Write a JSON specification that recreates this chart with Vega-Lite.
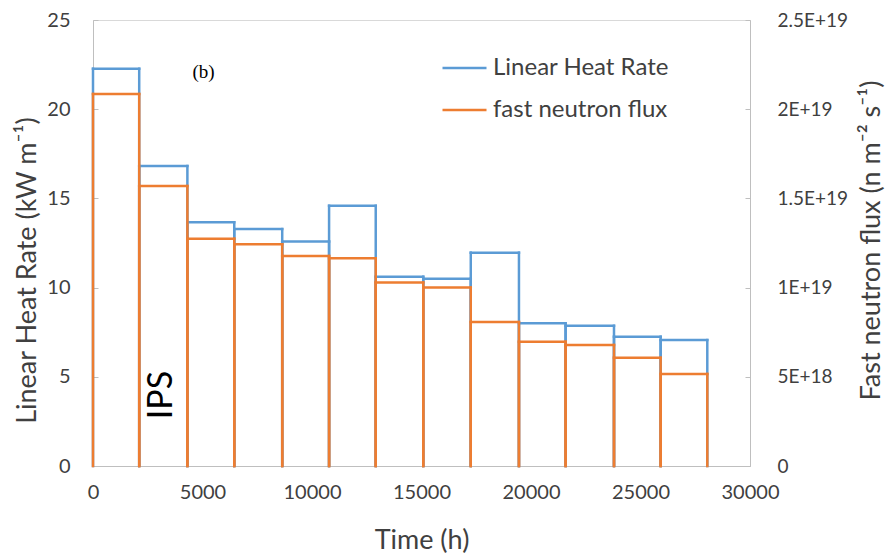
{
  "$schema": "https://vega.github.io/schema/vega-lite/v6.json",
  "width": 657,
  "height": 446,
  "autosize": {"type": "none"},
  "padding": {"left": 93, "top": 20, "right": 140, "bottom": 90},
  "background": "white",
  "config": {
    "view": {"stroke": "#d9d9d9", "strokeWidth": 1},
    "font": "Lato",
    "axis": {
      "domainColor": "#bfbfbf",
      "tickColor": "#bfbfbf",
      "labelColor": "#404040",
      "titleColor": "#404040",
      "grid": false,
      "labelFont": "Lato",
      "titleFont": "Lato",
      "titleFontWeight": "normal"
    },
    "legend": {"labelFont": "Lato"}
  },
  "data": {
    "values": [
      {"start": 0, "end": 2110, "lhr": 22.27, "flux": 2.085e19},
      {"start": 2110, "end": 4310, "lhr": 16.82, "flux": 1.57e19},
      {"start": 4310, "end": 6450, "lhr": 13.66, "flux": 1.274e19},
      {"start": 6450, "end": 8640, "lhr": 13.28, "flux": 1.243e19},
      {"start": 8640, "end": 10780, "lhr": 12.58, "flux": 1.177e19},
      {"start": 10780, "end": 12910, "lhr": 14.59, "flux": 1.164e19},
      {"start": 12910, "end": 15080, "lhr": 10.61, "flux": 1.028e19},
      {"start": 15080, "end": 17250, "lhr": 10.5, "flux": 1.0e19},
      {"start": 17250, "end": 19450, "lhr": 11.96, "flux": 8.07e18},
      {"start": 19450, "end": 21580, "lhr": 8.0, "flux": 6.97e18},
      {"start": 21580, "end": 23790, "lhr": 7.86, "flux": 6.78e18},
      {"start": 23790, "end": 25920, "lhr": 7.25, "flux": 6.07e18},
      {"start": 25920, "end": 28050, "lhr": 7.06, "flux": 5.16e18}
    ]
  },
  "layer": [
    {
      "encoding": {
        "y": {
          "field": "lhr",
          "type": "quantitative",
          "scale": {"domain": [0, 25], "nice": false},
          "axis": {
            "orient": "left",
            "title": "Linear Heat Rate (kW m⁻¹)",
            "values": [0, 5, 10, 15, 20, 25],
            "tickSize": -5,
            "labelPadding": 28,
            "labelFontSize": 20,
            "titleFontSize": 27,
            "titleBaseline": "middle",
            "titleX": -66,
            "titleY": 250
          }
        },
        "color": {
          "datum": "Linear Heat Rate",
          "scale": {
            "domain": ["Linear Heat Rate", "fast neutron flux"],
            "range": ["#5b9bd5", "#ed7d31"]
          },
          "legend": {
            "title": null,
            "orient": "none",
            "legendX": 348,
            "legendY": 36,
            "symbolType": "stroke",
            "symbolSize": 1936,
            "symbolStrokeWidth": 2.5,
            "clipHeight": 24,
            "rowPadding": 18,
            "labelFontSize": 24,
            "labelLimit": 400,
            "labelColor": "#404040",
            "labelOffset": 5
          }
        }
      },
      "layer": [
        {
          "mark": {"type": "rule", "strokeWidth": 2.5, "strokeCap": "square"},
          "encoding": {
            "x": {
              "field": "start",
              "type": "quantitative",
              "scale": {"domain": [0, 30000], "nice": false},
              "axis": {
                "title": "Time (h)",
                "values": [0, 5000, 10000, 15000, 20000, 25000, 30000],
                "format": "d",
                "ticks": false,
                "labelFlush": false,
                "labelPadding": 16,
                "labelFontSize": 20,
                "titleFontSize": 27,
                "titleBaseline": "middle",
                "titleY": 74
              }
            },
            "x2": {"field": "end"}
          }
        },
        {
          "mark": {"type": "rule", "strokeWidth": 2.5, "strokeCap": "square"},
          "encoding": {
            "x": {"field": "start", "type": "quantitative"},
            "y2": {"datum": 0}
          }
        },
        {
          "mark": {"type": "rule", "strokeWidth": 2.5, "strokeCap": "square"},
          "encoding": {
            "x": {"field": "end", "type": "quantitative"},
            "y2": {"datum": 0}
          }
        }
      ]
    },
    {
      "encoding": {
        "y": {
          "field": "flux",
          "type": "quantitative",
          "scale": {"domain": [0, 2.5e19], "nice": false},
          "axis": {
            "orient": "right",
            "title": "Fast neutron flux (n m⁻² s⁻¹)",
            "values": [0, 5e18, 1e19, 1.5e19, 2e19, 2.5e19],
            "labelExpr": "datum.value == 0 ? '0' : replace(format(datum.value, '.2~e'), 'e', 'E')",
            "tickSize": -5,
            "labelPadding": 32,
            "labelFontSize": 19,
            "titleFontSize": 27,
            "titleAngle": 270,
            "titleBaseline": "middle",
            "titleX": 121,
            "titleY": 220
          }
        },
        "color": {"datum": "fast neutron flux"}
      },
      "layer": [
        {
          "mark": {"type": "rule", "strokeWidth": 2.5, "strokeCap": "square"},
          "encoding": {
            "x": {"field": "start", "type": "quantitative"},
            "x2": {"field": "end"}
          }
        },
        {
          "mark": {"type": "rule", "strokeWidth": 2.5, "strokeCap": "square"},
          "encoding": {
            "x": {"field": "start", "type": "quantitative"},
            "y2": {"datum": 0}
          }
        },
        {
          "mark": {"type": "rule", "strokeWidth": 2.5, "strokeCap": "square"},
          "encoding": {
            "x": {"field": "end", "type": "quantitative"},
            "y2": {"datum": 0}
          }
        }
      ]
    },
    {
      "data": {"values": [{"note": "(b)", "t": 5050, "v": 22.1}]},
      "mark": {"type": "text", "font": "Liberation Serif", "fontSize": 19, "baseline": "middle", "color": "#000000"},
      "encoding": {
        "x": {"field": "t", "type": "quantitative"},
        "y": {"field": "v", "type": "quantitative", "scale": {"domain": [0, 25], "nice": false}, "axis": null},
        "text": {"field": "note"}
      }
    },
    {
      "data": {"values": [{"note": "IPS", "t": 3150, "v": 3.98}]},
      "mark": {"type": "text", "font": "Lato", "fontSize": 34, "angle": 270, "baseline": "middle", "color": "#000000"},
      "encoding": {
        "x": {"field": "t", "type": "quantitative"},
        "y": {"field": "v", "type": "quantitative", "scale": {"domain": [0, 25], "nice": false}, "axis": null},
        "text": {"field": "note"}
      }
    }
  ],
  "resolve": {"scale": {"y": "independent"}}
}
